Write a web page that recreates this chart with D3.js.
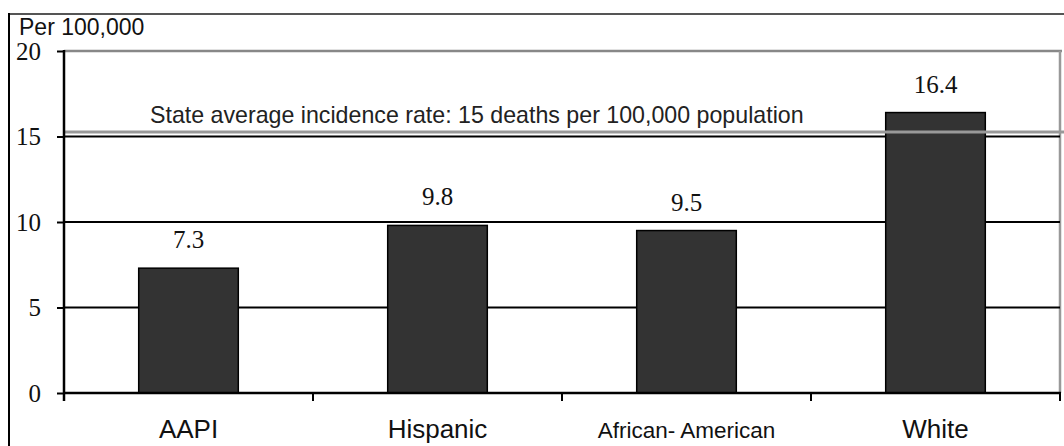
<!DOCTYPE html>
<html>
<head>
<meta charset="utf-8">
<script src="https://cdn.jsdelivr.net/npm/d3@7/dist/d3.min.js"></script>
<style>
  html, body { margin: 0; padding: 0; background: #fff; }
  svg { display: block; }
</style>
</head>
<body>
<svg id="chart" width="1064" height="446"></svg>
<script>
// Death rates per 100,000 by group
const categories = ["AAPI", "Hispanic", "African- American", "White"];
const rates = [7.3, 9.8, 9.5, 16.4];
const yTicks = [0, 5, 10, 15, 20];
const stateAverage = 15;
const stateLabel = "State average incidence rate: 15 deaths per 100,000 population";
const unitLabel = "Per 100,000";

const svg = d3.select("#chart");
const plot = { left: 64, right: 1060, top: 51, bottom: 393 };

const x = d3.scaleBand().domain(categories).range([plot.left, plot.right]).padding(0);
const y = d3.scaleLinear().domain([0, 20]).range([plot.bottom, plot.top]);
const barWidth = x.bandwidth() * 0.4;

// outer frame: top and left edges
svg.append("line").attr("x1", 8).attr("x2", 1064).attr("y1", 14).attr("y2", 14)
  .attr("stroke", "#555").attr("stroke-width", 2);
svg.append("line").attr("x1", 9).attr("x2", 9).attr("y1", 13).attr("y2", 446)
  .attr("stroke", "#000").attr("stroke-width", 2);

// plot border (top and right)
svg.append("line").attr("x1", plot.left).attr("x2", plot.right + 2).attr("y1", y(20)).attr("y2", y(20))
  .attr("stroke", "#888").attr("stroke-width", 2.5);
svg.append("line").attr("x1", plot.right).attr("x2", plot.right).attr("y1", y(20)).attr("y2", plot.bottom)
  .attr("stroke", "#999").attr("stroke-width", 2.5);

// horizontal gridlines
svg.append("g").selectAll("line")
  .data(yTicks.filter(d => d > 0 && d < 20))
  .join("line")
  .attr("x1", plot.left).attr("x2", plot.right)
  .attr("y1", d => y(d)).attr("y2", d => y(d))
  .attr("stroke", "#000").attr("stroke-width", 2);

// bars
svg.append("g").selectAll("rect")
  .data(categories)
  .join("rect")
  .attr("x", (d) => x(d) + (x.bandwidth() - barWidth) / 2)
  .attr("width", barWidth)
  .attr("y", (d, i) => y(rates[i]))
  .attr("height", (d, i) => y(0) - y(rates[i]))
  .attr("fill", "#333")
  .attr("stroke", "#000")
  .attr("stroke-width", 1.5);

// value labels
svg.append("g").selectAll("text")
  .data(categories)
  .join("text")
  .attr("x", d => x(d) + x.bandwidth() / 2)
  .attr("y", (d, i) => y(rates[i]) - 20)
  .attr("text-anchor", "middle")
  .attr("font-family", "'Liberation Serif', 'Times New Roman', serif")
  .attr("font-size", 25)
  .attr("fill", "#111")
  .text((d, i) => rates[i].toFixed(1));

// state average reference line
svg.append("line")
  .attr("x1", plot.left).attr("x2", 1064)
  .attr("y1", y(stateAverage) - 4.5).attr("y2", y(stateAverage) - 4.5)
  .attr("stroke", "#999").attr("stroke-width", 3);
svg.append("text")
  .attr("x", 150).attr("y", 123)
  .attr("font-family", "'Liberation Sans', Arial, sans-serif")
  .attr("font-size", 23.2)
  .attr("fill", "#222")
  .text(stateLabel);

// y axis
const yAxis = d3.axisLeft(y).tickValues(yTicks).tickSize(7).tickPadding(16);
const gy = svg.append("g").attr("transform", `translate(${plot.left},0)`).call(yAxis);
gy.select(".domain").remove();
gy.selectAll(".tick line").attr("stroke", "#000").attr("stroke-width", 2);
gy.selectAll(".tick text")
  .attr("font-family", "'Liberation Serif', 'Times New Roman', serif")
  .attr("font-size", 25)
  .attr("fill", "#111")
  .attr("dy", "0.33em");
svg.append("line").attr("x1", plot.left).attr("x2", plot.left)
  .attr("y1", y(20) - 1).attr("y2", plot.bottom + 8)
  .attr("stroke", "#000").attr("stroke-width", 2.5);

// x baseline and category separators
svg.append("line").attr("x1", plot.left).attr("x2", plot.right + 1)
  .attr("y1", plot.bottom).attr("y2", plot.bottom)
  .attr("stroke", "#000").attr("stroke-width", 2.5);
svg.append("g").selectAll("line")
  .data(categories)
  .join("line")
  .attr("x1", d => x(d) + x.bandwidth()).attr("x2", d => x(d) + x.bandwidth())
  .attr("y1", plot.bottom).attr("y2", plot.bottom + 8)
  .attr("stroke", "#000").attr("stroke-width", 2);

// category labels
svg.append("g").selectAll("text")
  .data(categories)
  .join("text")
  .attr("x", d => x(d) + x.bandwidth() / 2)
  .attr("y", 438)
  .attr("text-anchor", "middle")
  .attr("font-family", "'Liberation Sans', Arial, sans-serif")
  .attr("font-size", d => d === "African- American" ? 22.5 : 26)
  .attr("fill", "#111")
  .text(d => d);

// unit label
svg.append("text")
  .attr("x", 19).attr("y", 35)
  .attr("font-family", "'Liberation Sans', Arial, sans-serif")
  .attr("font-size", 23)
  .attr("fill", "#111")
  .text(unitLabel);
</script>
</body>
</html>
